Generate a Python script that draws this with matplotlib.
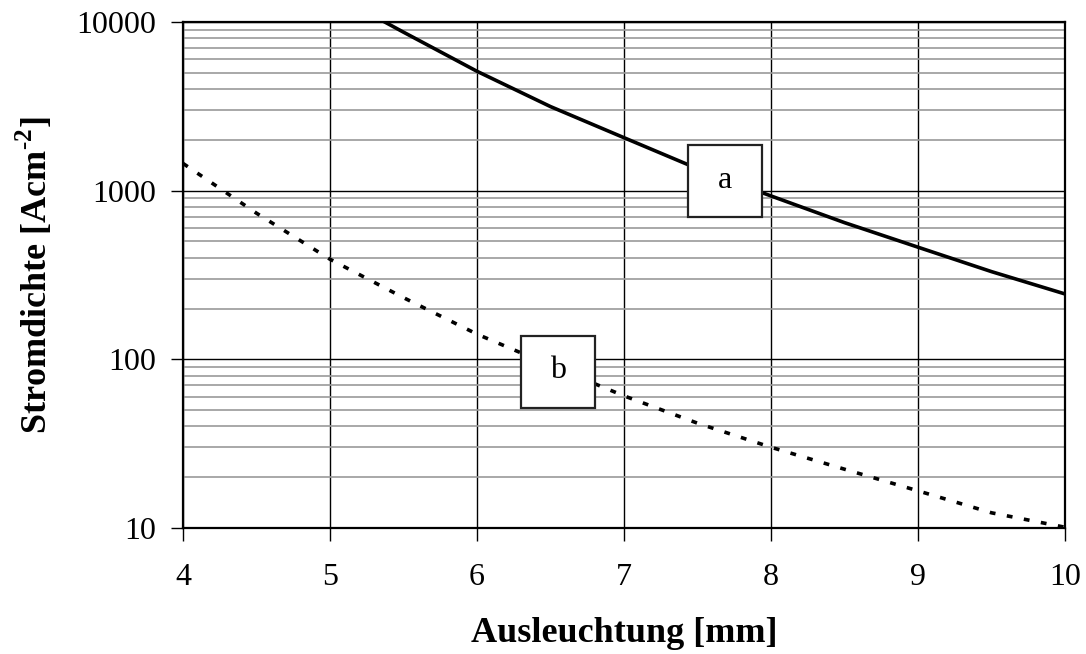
import matplotlib
matplotlib.use("Agg")
import matplotlib.pyplot as plt
from matplotlib.patches import Rectangle
from matplotlib.ticker import FixedLocator, LogLocator, NullFormatter

plt.rcParams['font.family'] = ['Liberation Serif', 'DejaVu Serif']
plt.rcParams['mathtext.fontset'] = 'custom'
plt.rcParams['mathtext.rm'] = 'Liberation Serif'
plt.rcParams['mathtext.bf'] = 'Liberation Serif:bold'

# Kurve a: Stromdichte ueber Ausleuchtung (durchgezogen)
x_a = [5.0, 5.5, 6.0, 6.5, 7.0, 7.5, 8.0, 8.5, 9.0, 9.5, 10.0]
j_a = [15000, 8700, 5100, 3150, 2060, 1350, 930, 646, 462, 331, 244]

# Kurve b (gepunktet)
x_b = [4.0, 4.5, 5.0, 5.5, 6.0, 6.5, 7.0, 7.5, 8.0, 8.5, 9.0, 9.5, 10.0]
j_b = [1450, 735, 392, 232, 141, 92, 60.7, 41.8, 30.1, 22.3, 16.6, 12.3, 10.1]

x_ticks = [4, 5, 6, 7, 8, 9, 10]
y_ticks = [10, 100, 1000, 10000]

fig = plt.figure(figsize=(10.86, 6.54), dpi=100)
ax = fig.add_axes([0.1685, 0.1927, 0.8122, 0.7737])

ax.set_yscale('log')
ax.set_xlim(4, 10)
ax.set_ylim(10, 10000)

ax.plot(x_a, j_a, color='black', lw=2.6, solid_joinstyle='round', zorder=3)
ax.plot(x_b, j_b, color='black', lw=2.6, linestyle=(0, (1.6, 3.2)),
        dash_capstyle='butt', zorder=3)

ax.xaxis.set_major_locator(FixedLocator(x_ticks))
ax.set_xticklabels([str(v) for v in x_ticks])
ax.yaxis.set_major_locator(FixedLocator(y_ticks))
ax.set_yticklabels([str(v) for v in y_ticks])
ax.yaxis.set_minor_locator(LogLocator(base=10, subs=range(2, 10)))
ax.yaxis.set_minor_formatter(NullFormatter())

ax.grid(True, which='major', axis='both', color='black', lw=1.0, zorder=1)
ax.grid(True, which='minor', axis='y', color='#9a9a9a', lw=1.2, zorder=1)
ax.set_axisbelow(True)

ax.tick_params(which='major', direction='out', length=9, width=1.0,
               labelsize=23)
ax.tick_params(axis='x', pad=16)
ax.tick_params(axis='y', pad=10)
ax.tick_params(which='minor', length=0)
for s in ax.spines.values():
    s.set_linewidth(1.6)

ax.set_xlabel('Ausleuchtung [mm]', fontsize=26, fontweight='bold', labelpad=18)
ax.set_ylabel(r'Stromdichte [Acm$^{\mathbf{\text{-}2}}$]', fontsize=26,
              fontweight='bold', labelpad=16)

# Beschriftungskaesten fuer die Kurven
for label, x0, y0 in [('a', 0.5726, 0.6146), ('b', 0.3828, 0.2378)]:
    ax.add_patch(Rectangle((x0, y0), 0.0839, 0.1423, transform=ax.transAxes,
                           facecolor='white', edgecolor='#222222', lw=1.6,
                           zorder=5))
    ax.text(x0 + 0.042, y0 + 0.073, label, transform=ax.transAxes,
            ha='center', va='center', fontsize=23, zorder=6)

fig.savefig('out.png', dpi=100)
